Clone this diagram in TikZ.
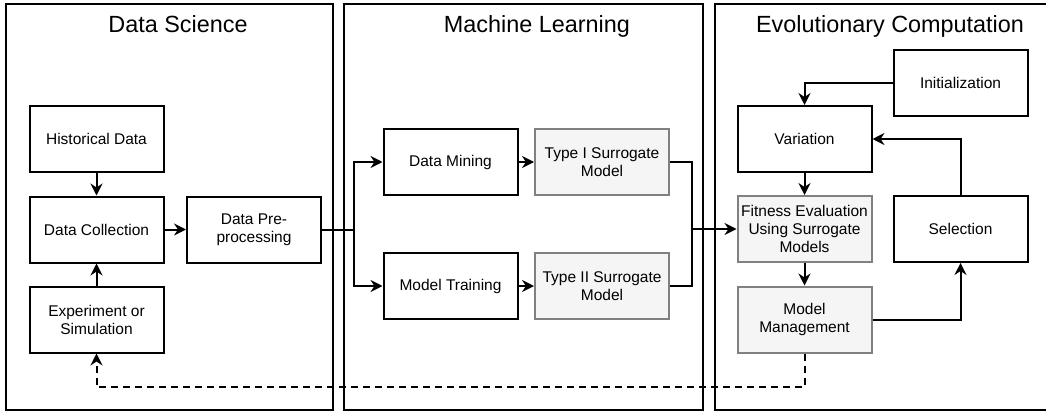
\documentclass[tikz,border=0pt]{standalone}
\usepackage{fontspec}
\setmainfont{Liberation Sans}
\usetikzlibrary{arrows.meta}
\definecolor{gfill}{HTML}{F5F5F5}
\definecolor{gline}{HTML}{808080}
\begin{document}
\begin{tikzpicture}[x=1pt,y=-1pt,
  box/.style={draw=black, line width=2pt, minimum width=134pt, minimum height=66pt, align=center, font=\fontsize{15.5}{18}\selectfont, inner sep=0pt},
  gbox/.style={box, draw=gline, fill=gfill},
  panel/.style={draw=black, line width=2pt},
  title/.style={font=\fontsize{23.4}{28}\selectfont, anchor=base},
  ln/.style={line width=2pt},
  arr/.style={ln, -{Stealth[length=12pt,width=12pt,inset=4pt]}},
]
\clip (0,0) rectangle (1046,412);
% panels
\draw[panel] (6,4) rectangle (333,410);
\draw[panel] (344,4) rectangle (703,410);
\draw[panel] (715,4) rectangle (1052,410);
% titles
\node[title] (tds) at (178,33) {Data Science};
\node[title] (tml) at (537,33) {Machine Learning};
\node[title] (tec) at (890,33) {Evolutionary Computation};
% nodes
\node[box] (hist) at (96.5,139) {Historical Data};
\node[box] (coll) at (96.5,229.5) {Data Collection};
\node[box] (exp) at (96.5,319.5) {Experiment or\\Simulation};
\node[box] (pre) at (254,229.5) {Data Pre-\\processing};
\node[box] (dm) at (450.5,162) {Data Mining};
\node[gbox] (t1) at (602,162) {Type I Surrogate\\Model};
\node[box] (mt) at (450.5,286) {Model Training};
\node[gbox] (t2) at (602,286) {Type II Surrogate\\Model};
\node[box] (init) at (960.5,83) {Initialization};
\node[box] (var) at (804.5,139) {Variation};
\node[gbox] (fit) at (804.5,229) {Fitness Evaluation\\Using Surrogate\\Models};
\node[gbox] (mm) at (804.5,319.5) {Model\\Management};
\node[box] (sel) at (960.5,229) {Selection};
% connectors
\coordinate (j1) at (354,229.5);
\coordinate (j2) at (692,229);
\coordinate (dd) at (804.5,387);
\draw[arr] (hist) -- (coll);
\draw[arr] (exp) -- (coll);
\draw[arr] (coll) -- (pre);
\draw[ln] (pre.east) -- (j1);
\draw[arr] (j1) |- (dm.west);
\draw[arr] (j1) |- (mt.west);
\draw[arr] (dm) -- (t1);
\draw[arr] (mt) -- (t2);
\draw[ln] (t1.east) -| (j2);
\draw[ln] (t2.east) -| (j2);
\draw[arr] (j2) -- (fit.west);
\draw[arr] (init.west) -| (var.north);
\draw[arr] (var) -- (fit);
\draw[arr] (fit) -- (mm);
\draw[arr] (mm.east) -| (sel.south);
\draw[arr] (sel.north) |- (var.east);
\draw[arr, dash pattern=on 7pt off 5pt] (mm.south) -- (dd) -| (exp.south);
\end{tikzpicture}
\end{document}
